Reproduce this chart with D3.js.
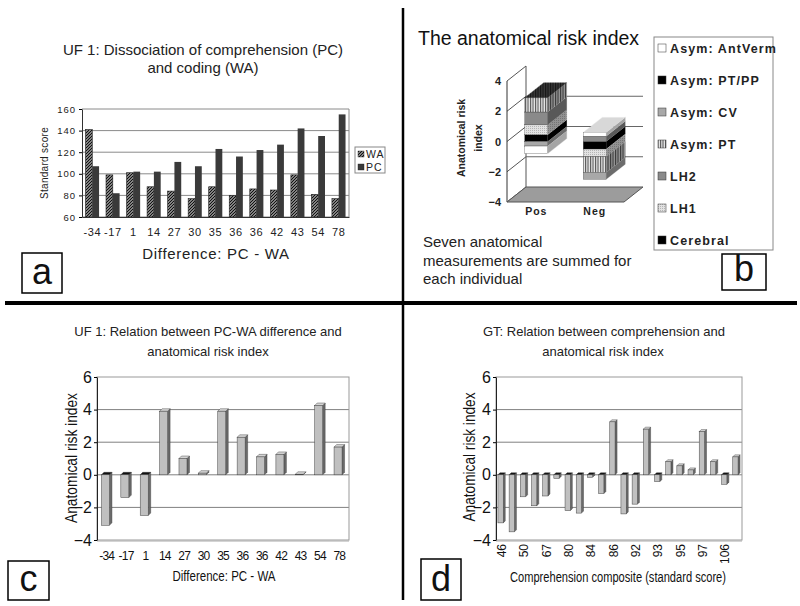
<!DOCTYPE html>
<html>
<head>
<meta charset="utf-8">
<script src="https://cdn.jsdelivr.net/npm/d3@7"></script>
<style>
body { margin: 0; background: #fff; }
svg { display: block; font-family: "Liberation Sans", Arial, sans-serif; }
</style>
</head>
<body>
<svg id="fig" width="800" height="606"></svg>
<script>
// ---- panel a: WA vs PC standard scores
var diffLabels = ["-34", "-17", "1", "14", "27", "30", "35", "36", "36", "42", "43", "54", "78"];
var waScores = [141, 99, 101, 88, 84, 77, 88, 80, 86, 85, 99, 81, 77];
var pcScores = [107, 82, 102, 102, 111, 107, 123, 116, 122, 127, 142, 135, 155];
var scoreTicks = [60, 80, 100, 120, 140, 160];

// ---- panel b: stacked anatomical risk index
var riskGroups = ["Pos", "Neg"];
var riskSeries = ["Cerebral", "LH1", "LH2", "Asym: PT", "Asym: CV", "Asym: PT/PP", "Asym: AntVerm"];
var posParts = [0.45, 0.65, 0.85, 0.95, -0.3, 0, -0.5];
var negParts = [-0.5, -0.5, 0.35, -1.05, -0.45, 0, 0.25];
var riskTicks = [-4, -2, 0, 2, 4];

// ---- panel c: UF 1 risk index by PC-WA difference
var ufRisk = [-3.1, -1.4, -2.5, 3.9, 1.0, 0.1, 3.9, 2.3, 1.1, 1.25, 0.03, 4.25, 1.7];

// ---- panel d: GT risk index by comprehension score
var gtScores = [46, 48, 50, 62, 67, 75, 80, 82, 84, 85, 86, 90, 92, 92, 93, 94, 95, 96, 97, 100, 106, 110];
var gtRisk = [-2.95, -3.5, -1.35, -1.9, -1.3, -0.22, -2.2, -2.35, -0.15, -1.15, 3.25, -2.4, -1.8, 2.8, -0.42, 0.8, 0.55, 0.3, 2.65, 0.8, -0.58, 1.1];
var arTicks = [-4, -2, 0, 2, 4, 6];

var F = '"Liberation Sans", Arial, sans-serif';
var svg = d3.select("#fig");
var defs = svg.append("defs");

// patterns
var hatch = defs.append("pattern").attr("id", "hatch").attr("patternUnits", "userSpaceOnUse")
  .attr("width", 3).attr("height", 3);
hatch.append("rect").attr("width", 3).attr("height", 3).attr("fill", "#fff");
hatch.append("path").attr("d", "M-1,1 L1,-1 M0,3 L3,0 M2,4 L4,2").attr("stroke", "#111").attr("stroke-width", 1.5);

var vstripe = defs.append("pattern").attr("id", "vstripe").attr("patternUnits", "userSpaceOnUse")
  .attr("width", 2.5).attr("height", 4);
vstripe.append("rect").attr("width", 2.5).attr("height", 4).attr("fill", "#e8e8e8");
vstripe.append("rect").attr("width", 1.1).attr("height", 4).attr("fill", "#555");

var dots = defs.append("pattern").attr("id", "dots").attr("patternUnits", "userSpaceOnUse")
  .attr("width", 2).attr("height", 2);
dots.append("rect").attr("width", 2).attr("height", 2).attr("fill", "#e2e2e2");
dots.append("rect").attr("width", 1).attr("height", 1).attr("fill", "#b5b5b5");

// ================= panel a =================
var pa = svg.append("g");
var xA = d3.scaleBand().domain(d3.range(diffLabels.length)).range([82, 349]);
var yA = d3.scaleLinear().domain([60, 160]).range([217, 109]);

pa.selectAll("line.grid").data(scoreTicks).enter().append("line")
  .attr("x1", 82).attr("x2", 349)
  .attr("y1", function(d) { return yA(d); }).attr("y2", function(d) { return yA(d); })
  .attr("stroke", "#8a8a8a");
pa.append("line").attr("x1", 349).attr("x2", 349).attr("y1", 109).attr("y2", 217).attr("stroke", "#8a8a8a");

var bw = 6.8;
pa.selectAll("rect.wa").data(waScores).enter().append("rect")
  .attr("x", function(d, i) { return xA(i) + xA.bandwidth() / 2 - bw; })
  .attr("y", function(d) { return yA(d); })
  .attr("width", bw)
  .attr("height", function(d) { return yA(60) - yA(d); })
  .attr("fill", "url(#hatch)").attr("stroke", "#222").attr("stroke-width", 0.6);
pa.selectAll("rect.pc").data(pcScores).enter().append("rect")
  .attr("x", function(d, i) { return xA(i) + xA.bandwidth() / 2; })
  .attr("y", function(d) { return yA(d); })
  .attr("width", bw)
  .attr("height", function(d) { return yA(60) - yA(d); })
  .attr("fill", "#3a3a3a");

var ayA = pa.append("g").attr("transform", "translate(82,0)")
  .call(d3.axisLeft(yA).tickValues(scoreTicks).tickSize(3).tickSizeOuter(0).tickPadding(3));
ayA.select(".domain").attr("stroke", "#333");
ayA.selectAll("text").attr("font-family", F).attr("font-size", 9.5).attr("letter-spacing", 1).attr("fill", "#222");

var axA = pa.append("g").attr("transform", "translate(0,217)")
  .call(d3.axisBottom(xA).tickFormat(function(i) { return diffLabels[i]; }).tickSize(0).tickSizeOuter(0).tickPadding(11));
axA.select(".domain").attr("stroke", "#333");
axA.selectAll("text").attr("font-family", F).attr("font-size", 11).attr("letter-spacing", 0.6).attr("fill", "#222");

pa.append("text").attr("x", 203).attr("y", 55).attr("text-anchor", "middle")
  .attr("font-size", 15).attr("fill", "#222").text("UF 1: Dissociation of comprehension (PC)");
pa.append("text").attr("x", 203).attr("y", 73).attr("text-anchor", "middle")
  .attr("font-size", 15).attr("fill", "#222").text("and coding (WA)");
pa.append("text").attr("x", 216).attr("y", 259).attr("text-anchor", "middle")
  .attr("font-size", 15).attr("letter-spacing", 0.7).attr("fill", "#222").text("Difference: PC - WA");
pa.append("text").attr("transform", "translate(47.5,163) rotate(-90)").attr("text-anchor", "middle")
  .attr("font-size", 10).attr("letter-spacing", 0.3).attr("fill", "#222").text("Standard score");

// legend a
pa.append("rect").attr("x", 355).attr("y", 147).attr("width", 30).attr("height", 26)
  .attr("fill", "#fff").attr("stroke", "#888");
[["WA", "url(#hatch)"], ["PC", "#3a3a3a"]].forEach(function(e, i) {
  pa.append("rect").attr("x", 358).attr("y", 151 + i * 13).attr("width", 6).attr("height", 6)
    .attr("fill", e[1]).attr("stroke", "#222").attr("stroke-width", 0.4);
  pa.append("text").attr("x", 366).attr("y", 158 + i * 13).attr("font-size", 10.5)
    .attr("letter-spacing", 1).attr("fill", "#222").text(e[0]);
});

// ================= panel b =================
var pb = svg.append("g");
var dX = 19, dY = -15;
var xB = d3.scaleBand().domain(riskGroups).range([507, 624]);
var yB = d3.scaleLinear().domain([-4, 4]).range([202, 81]);
var riskFills = ["#000", "url(#dots)", "#8a8a8a", "url(#vstripe)", "#a8a8a8", "#000", "#fff"];

// walls + floor
pb.append("line").attr("x1", 507 + dX).attr("x2", 507 + dX)
  .attr("y1", yB(-4) + dY).attr("y2", yB(4) + dY).attr("stroke", "#555");
pb.selectAll("line.bgrid").data([-2, 0, 2]).enter().append("line")
  .attr("x1", 507 + dX).attr("x2", 624 + dX)
  .attr("y1", function(d) { return yB(d) + dY; }).attr("y2", function(d) { return yB(d) + dY; })
  .attr("stroke", "#666");
pb.selectAll("line.side").data(riskTicks).enter().append("line")
  .attr("x1", 507).attr("x2", 507 + dX)
  .attr("y1", function(d) { return yB(d); }).attr("y2", function(d) { return yB(d) + dY; })
  .attr("stroke", "#555");
pb.append("line").attr("x1", 507).attr("x2", 507).attr("y1", yB(4)).attr("y2", yB(-4)).attr("stroke", "#333");
pb.append("polygon")
  .attr("points", [[507, yB(-4)], [624, yB(-4)], [624 + dX, yB(-4) + dY], [507 + dX, yB(-4) + dY]].join(" "))
  .attr("fill", "#9c9c9c").attr("stroke", "#555");

// stacked bars
var rowsB = riskGroups.map(function(g, gi) {
  var r = { group: g };
  riskSeries.forEach(function(s, si) { r[s] = (gi == 0 ? posParts : negParts)[si]; });
  return r;
});
var stackB = d3.stack().keys(riskSeries).offset(d3.stackOffsetDiverging)(rowsB);
var fw = 23;
riskGroups.forEach(function(g, gi) {
  var xl = xB(g) + xB.bandwidth() / 2 - fw / 2, xr = xl + fw;
  var topVal = -Infinity, topFill = "#fff";
  stackB.forEach(function(layer, si) {
    var v = layer[gi];
    var lo = Math.min(v[0], v[1]), hi = Math.max(v[0], v[1]);
    if (hi - lo <= 0) return;
    if (hi > topVal) { topVal = hi; topFill = riskFills[si]; }
    var y0 = yB(hi), y1 = yB(lo);
    pb.append("rect").attr("x", xl).attr("y", y0).attr("width", fw).attr("height", y1 - y0)
      .attr("fill", riskFills[si]).attr("stroke", "#333").attr("stroke-width", 0.3);
    var side = [[xr, y0], [xr + dX, y0 + dY], [xr + dX, y1 + dY], [xr, y1]].join(" ");
    pb.append("polygon").attr("points", side).attr("fill", riskFills[si]);
    pb.append("polygon").attr("points", side).attr("fill", "#000").attr("opacity", 0.35)
      .attr("stroke", "#333").attr("stroke-width", 0.3);
  });
  var yt = yB(topVal);
  var topFace = [[xl, yt], [xl + dX, yt + dY], [xr + dX, yt + dY], [xr, yt]].join(" ");
  pb.append("polygon").attr("points", topFace).attr("fill", topFill);
  pb.append("polygon").attr("points", topFace).attr("fill", "#000").attr("opacity", gi == 0 ? 0.75 : 0.15)
    .attr("stroke", "#333").attr("stroke-width", 0.4);
});

var ayB = pb.append("g").attr("transform", "translate(507,0)")
  .call(d3.axisLeft(yB).tickValues(riskTicks).tickSize(0).tickPadding(6));
ayB.select(".domain").remove();
ayB.selectAll("text").attr("font-family", F).attr("font-size", 11).attr("font-weight", "bold").attr("fill", "#222");
var axB = pb.append("g").attr("transform", "translate(0,206)")
  .call(d3.axisBottom(xB).tickSize(0).tickPadding(2));
axB.select(".domain").remove();
axB.selectAll("text").attr("font-family", F).attr("font-size", 10.5).attr("font-weight", "bold")
  .attr("letter-spacing", 1).attr("fill", "#222");

pb.append("text").attr("transform", "translate(465,138) rotate(-90)").attr("text-anchor", "middle")
  .attr("font-size", 10.5).attr("font-weight", "bold").attr("fill", "#222").text("Anatomical risk");
pb.append("text").attr("transform", "translate(482,138) rotate(-90)").attr("text-anchor", "middle")
  .attr("font-size", 10.5).attr("font-weight", "bold").attr("fill", "#222").text("index");

pb.append("text").attr("x", 418).attr("y", 45).attr("font-size", 19.5).attr("fill", "#111")
  .text("The anatomical risk index");
["Seven anatomical", "measurements are summed for", "each individual"].forEach(function(t, i) {
  pb.append("text").attr("x", 423).attr("y", 247 + i * 18.5).attr("font-size", 15).attr("fill", "#222").text(t);
});

// legend b
pb.append("rect").attr("x", 654).attr("y", 37).attr("width", 119).attr("height", 213)
  .attr("fill", "#fff").attr("stroke", "#888");
riskSeries.slice().reverse().forEach(function(s, i) {
  var si = riskSeries.indexOf(s);
  var y = 48 + i * 32;
  pb.append("rect").attr("x", 658).attr("y", y - 4).attr("width", 8).attr("height", 8)
    .attr("fill", riskFills[si]).attr("stroke", "#333").attr("stroke-width", 0.5);
  pb.append("text").attr("x", 670).attr("y", y + 4.5).attr("font-size", 12.5).attr("font-weight", "bold")
    .attr("letter-spacing", 1.1).attr("fill", "#222").text(s);
});

// ================= panels c, d =================
function columns3d(g, vals, labels, x0, x1, barW, dx, dy, showLabel, rotLabels) {
  var x = d3.scaleBand().domain(d3.range(vals.length)).range([x0, x1]);
  var y = d3.scaleLinear().domain([-4, 6]).range([540, 377]);
  g.selectAll("line.grid").data([-2, 0, 2, 4]).enter().append("line")
    .attr("x1", x0).attr("x2", x1)
    .attr("y1", function(d) { return y(d); }).attr("y2", function(d) { return y(d); })
    .attr("stroke", "#808080");
  g.append("rect").attr("x", x0).attr("y", 377).attr("width", x1 - x0).attr("height", 163)
    .attr("fill", "none").attr("stroke", "#999");
  g.append("line").attr("x1", x0).attr("x2", x1).attr("y1", 541).attr("y2", 541).attr("stroke", "#aaa");

  var bars = g.selectAll("g.bar").data(vals).enter().append("g");
  bars.each(function(d, i) {
    var b = d3.select(this);
    var xl = x(i) + x.bandwidth() / 2 - (barW + dx) / 2, xr = xl + barW;
    var yt = y(Math.max(d, 0)), yb = y(Math.min(d, 0));
    b.append("polygon").attr("points", [[xr, yt], [xr + dx, yt + dy], [xr + dx, yb + dy], [xr, yb]].join(" "))
      .attr("fill", "#6a6a6a").attr("stroke", "#333").attr("stroke-width", 0.4);
    b.append("polygon").attr("points", [[xl, yt], [xl + dx, yt + dy], [xr + dx, yt + dy], [xr, yt]].join(" "))
      .attr("fill", d < 0 ? "#111" : "#d4d4d4").attr("stroke", "#333").attr("stroke-width", 0.4);
    b.append("rect").attr("x", xl).attr("y", yt).attr("width", barW).attr("height", Math.max(yb - yt, 0.5))
      .attr("fill", "#c0c0c0").attr("stroke", "#444").attr("stroke-width", 0.5);
  });

  var ay = g.append("g").attr("transform", "translate(" + x0 + ",0)")
    .call(d3.axisLeft(y).tickValues(arTicks).tickSize(3).tickSizeOuter(0).tickPadding(2));
  ay.select(".domain").attr("stroke", "#222");
  ay.selectAll("text").attr("font-family", F).attr("font-size", 16).attr("fill", "#111");

  var axis = d3.axisBottom(x).tickSize(0).tickSizeOuter(0)
    .tickValues(d3.range(vals.length).filter(showLabel))
    .tickFormat(function(i) { return labels[i]; });
  var ax = g.append("g").attr("transform", "translate(0,541)").call(axis);
  ax.select(".domain").remove();
  var tx = ax.selectAll("text").attr("font-family", F).attr("fill", "#111");
  if (rotLabels) {
    tx.attr("font-size", 12).attr("transform", "rotate(-90)").attr("text-anchor", "end")
      .attr("x", -3).attr("y", 0).attr("dy", "0.35em");
  } else {
    tx.attr("font-size", 12).attr("letter-spacing", -0.8).attr("y", 10);
  }
}

var pc = svg.append("g");
columns3d(pc, ufRisk, diffLabels, 97, 349, 8, 2.5, -2.5, function() { return true; }, false);
pc.append("text").attr("x", 208).attr("y", 336).attr("text-anchor", "middle").attr("font-size", 13)
  .attr("fill", "#222").text("UF 1: Relation between PC-WA difference and");
pc.append("text").attr("x", 208).attr("y", 356).attr("text-anchor", "middle").attr("font-size", 13)
  .attr("fill", "#222").text("anatomical risk index");
pc.append("text").attr("transform", "translate(77,458) rotate(-90)").attr("text-anchor", "middle")
  .attr("font-size", 16).attr("textLength", 130).attr("lengthAdjust", "spacingAndGlyphs")
  .attr("fill", "#111").text("Anatomical risk index");
pc.append("text").attr("x", 224).attr("y", 581).attr("text-anchor", "middle")
  .attr("font-size", 14).attr("textLength", 103).attr("lengthAdjust", "spacingAndGlyphs")
  .attr("fill", "#111").text("Difference: PC - WA");

var pd = svg.append("g");
columns3d(pd, gtRisk, gtScores, 496, 742, 5.3, 2, -2, function(i) { return i % 2 == 0; }, true);
pd.append("text").attr("x", 604).attr("y", 336).attr("text-anchor", "middle").attr("font-size", 13)
  .attr("fill", "#222").text("GT: Relation between comprehension and");
pd.append("text").attr("x", 603).attr("y", 356).attr("text-anchor", "middle").attr("font-size", 13)
  .attr("fill", "#222").text("anatomical risk index");
pd.append("text").attr("transform", "translate(475,457) rotate(-90)").attr("text-anchor", "middle")
  .attr("font-size", 16).attr("textLength", 129).attr("lengthAdjust", "spacingAndGlyphs")
  .attr("fill", "#111").text("Anatomical risk index");
pd.append("text").attr("x", 618).attr("y", 582).attr("text-anchor", "middle")
  .attr("font-size", 14).attr("textLength", 216).attr("lengthAdjust", "spacingAndGlyphs")
  .attr("fill", "#111").text("Comprehension composite (standard score)");

// ================= frame =================
svg.append("line").attr("x1", 403).attr("x2", 403).attr("y1", 8).attr("y2", 600)
  .attr("stroke", "#000").attr("stroke-width", 2.5);
svg.append("line").attr("x1", 5).attr("x2", 797).attr("y1", 303).attr("y2", 303)
  .attr("stroke", "#000").attr("stroke-width", 4);

[["a", 22, 253, 40, 40], ["b", 722, 254, 44, 36], ["c", 8, 561, 41, 39], ["d", 421, 559, 40, 41]]
  .forEach(function(p) {
    svg.append("rect").attr("x", p[1]).attr("y", p[2]).attr("width", p[3]).attr("height", p[4])
      .attr("fill", "#fff").attr("stroke", "#000").attr("stroke-width", 1.5);
    svg.append("text").attr("x", p[1] + p[3] / 2).attr("y", p[2] + p[4] - 9).attr("text-anchor", "middle")
      .attr("font-size", 36).attr("fill", "#111").text(p[0]);
  });
</script>
</body>
</html>
